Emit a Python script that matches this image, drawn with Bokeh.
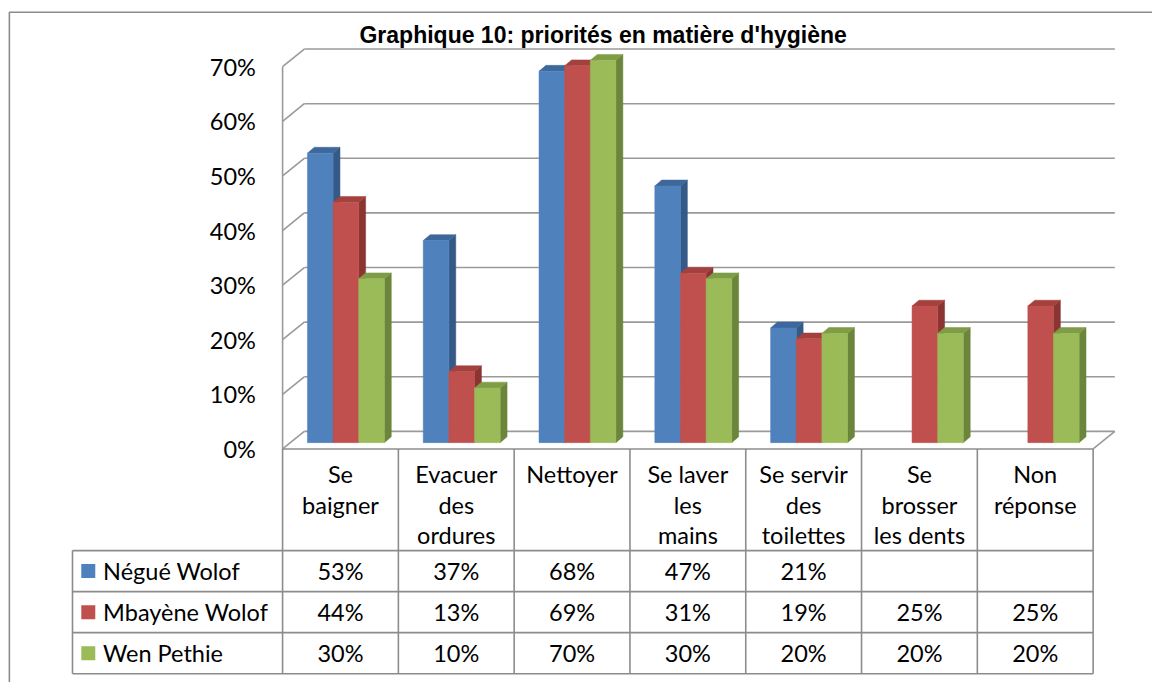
from bokeh.plotting import figure
from bokeh.models import Range1d, ColumnDataSource
from bokeh.core.properties import value
from bokeh.embed import file_html
from bokeh.resources import INLINE

# ---------------- data ----------------
title = "Graphique 10: priorités en matière d'hygiène"
categories = ["Se baigner", "Evacuer des ordures", "Nettoyer", "Se laver les mains",
              "Se servir des toilettes", "Se brosser les dents", "Non réponse"]
category_labels = ["Se\nbaigner", "Evacuer\ndes\nordures", "Nettoyer", "Se laver\nles\nmains",
                   "Se servir\ndes\ntoilettes", "Se\nbrosser\nles dents", "Non\nréponse"]
series_names = ["Négué Wolof", "Mbayène Wolof", "Wen Pethie"]
negue = [53, 37, 68, 47, 21, None, None]
mbayene = [44, 13, 69, 31, 19, 25, 25]
wen = [30, 10, 70, 30, 20, 20, 20]
y_ticks = [0, 10, 20, 30, 40, 50, 60, 70]
y_tick_labels = ["0%", "10%", "20%", "30%", "40%", "50%", "60%", "70%"]

series_values = [negue, mbayene, wen]
front_colors = ["#4F81BD", "#C0504D", "#9BBB59"]
top_colors = ["#3E679B", "#A3413E", "#7F9C47"]
side_colors = ["#355A88", "#8A3532", "#6B853A"]

# ---------------- layout (reference px) ----------------
W, H = 1152, 682
REF_W, REF_H = 1168, 698
COL_PX = 117.4        # px per category column
PCT_PX = 5.59         # px per percentage point
FRONT_LEFT = 286      # x of front-left wall edge
FLOOR_Y = 459         # y of front floor edge
WALL_DX, WALL_DY = 22, 18
BAR_DX, BAR_DY = 5.5, 6.5
BAR_DEPTH_X, BAR_DEPTH_Y = 7, 6
BAR_W = 26
HEADER_PX = 104
ROW_PX = 42
LEGEND_LEFT = 73
GRID = "#9A9A9A"
BORDER = "#8C8C8C"
FONT = value("Lato")
FS = "23.5px"


def sx(px):
    return (px - FRONT_LEFT) / COL_PX - 0.5


def sy(py):
    return (FLOOR_Y - py) / PCT_PX


def ux(px):
    return px / COL_PX


def uy(px):
    return px / PCT_PX


n = len(categories)
x_left_wall = -0.5
x_right_wall = n - 0.5

p = figure(width=W, height=H, x_range=Range1d(sx(0), sx(REF_W)),
           y_range=Range1d(sy(REF_H), sy(0)),
           x_axis_type=None, y_axis_type=None, output_backend="svg",
           toolbar_location=None, min_border=0)
p.outline_line_color = None
p.grid.visible = False
p.background_fill_color = "white"
p.border_fill_color = "white"

# outer chart border (cropped in the reference)
p.line([sx(9), sx(9), sx(1200)], [sy(720), sy(12), sy(12)], line_color=BORDER, line_width=1.6)

# title
p.text([sx(611)], [sy(35)], text=[title], text_font=value("Liberation Sans"),
       text_font_style="bold", text_font_size="23px", text_align="center",
       text_baseline="alphabetic", text_color="black")

# ---------------- walls ----------------
gx, gy = [], []
for t in y_ticks:
    gx.append([x_left_wall + ux(WALL_DX), x_right_wall + ux(WALL_DX)])
    gy.append([t + uy(WALL_DY), t + uy(WALL_DY)])
    gx.append([x_left_wall, x_left_wall + ux(WALL_DX)])
    gy.append([t, t + uy(WALL_DY)])
gx.append([x_left_wall, x_left_wall])
gy.append([0, y_ticks[-1]])
gx.append([x_right_wall, x_right_wall + ux(WALL_DX)])
gy.append([0, uy(WALL_DY)])
p.multi_line(gx, gy, line_color=GRID, line_width=1.6)

# ---------------- bars ----------------
sides = dict(xs=[], ys=[], c=[])
tops = dict(xs=[], ys=[], c=[])
fronts = dict(l=[], r=[], b=[], t=[], c=[])
for i in range(n):
    for s, vals in enumerate(series_values):
        v = vals[i]
        if v is None:
            continue
        xl = i + ux(-1.5 * BAR_W + BAR_DX + s * BAR_W)
        xr = xl + ux(BAR_W)
        yb = uy(BAR_DY)
        yt = v + uy(BAR_DY)
        ddx, ddy = ux(BAR_DEPTH_X), uy(BAR_DEPTH_Y)
        sides["xs"].append([xr, xr + ddx, xr + ddx, xr])
        sides["ys"].append([yb, yb + ddy, yt + ddy, yt])
        sides["c"].append(side_colors[s])
        tops["xs"].append([xl, xr, xr + ddx, xl + ddx])
        tops["ys"].append([yt, yt, yt + ddy, yt + ddy])
        tops["c"].append(top_colors[s])
        fronts["l"].append(xl)
        fronts["r"].append(xr)
        fronts["b"].append(yb)
        fronts["t"].append(yt)
        fronts["c"].append(front_colors[s])

p.patches("xs", "ys", source=ColumnDataSource(sides), fill_color="c", line_color="c", line_width=0.5)
p.patches("xs", "ys", source=ColumnDataSource(tops), fill_color="c", line_color="c", line_width=0.5)
p.quad(left="l", right="r", bottom="b", top="t", source=ColumnDataSource(fronts),
       fill_color="c", line_color="c", line_width=0.5)

# ---------------- y tick labels ----------------
p.text([sx(259)] * len(y_ticks), y_ticks, text=y_tick_labels, text_font=FONT,
       text_font_size=FS, text_align="right", text_baseline="middle", text_color="black")

# ---------------- data table ----------------
header_bottom = FLOOR_Y + HEADER_PX
row_lines = [header_bottom + k * ROW_PX for k in range(len(series_names) + 1)]
tx, ty = [], []
tx.append([x_left_wall, x_right_wall])
ty.append([0, 0])
for ry in row_lines:
    tx.append([sx(LEGEND_LEFT), x_right_wall])
    ty.append([sy(ry), sy(ry)])
for k in range(n + 1):
    tx.append([x_left_wall + k, x_left_wall + k])
    ty.append([0, sy(row_lines[-1])])
tx.append([sx(LEGEND_LEFT), sx(LEGEND_LEFT)])
ty.append([sy(row_lines[0]), sy(row_lines[-1])])
p.multi_line(tx, ty, line_color=BORDER, line_width=1.6)

# header labels (wrapped lines)
hx, hy, ht = [], [], []
for i, lab in enumerate(category_labels):
    for j, line in enumerate(lab.split("\n")):
        hx.append(i)
        hy.append(sy(FLOOR_Y + 26 + 31 * j))
        ht.append(line)
p.text(hx, hy, text=ht, text_font=FONT, text_font_size=FS, text_align="center",
       text_baseline="middle", text_color="black")

# value cells
vx, vy, vt = [], [], []
for r, vals in enumerate(series_values):
    cy = sy(header_bottom + r * ROW_PX + ROW_PX / 2)
    for i, v in enumerate(vals):
        if v is None:
            continue
        vx.append(i)
        vy.append(cy)
        vt.append(f"{v}%")
p.text(vx, vy, text=vt, text_font=FONT, text_font_size=FS, text_align="center",
       text_baseline="middle", text_color="black")

# legend keys + names
ly = [sy(header_bottom + r * ROW_PX + ROW_PX / 2) for r in range(len(series_names))]
p.rect([sx(89)] * 3, ly, width=14, height=14, width_units="screen", height_units="screen",
       fill_color=front_colors, line_color=None)
p.text([sx(104)] * 3, ly, text=series_names, text_font=FONT, text_font_size=FS,
       text_align="left", text_baseline="middle", text_color="black")

open("out.html", "w").write(file_html(p, INLINE))
